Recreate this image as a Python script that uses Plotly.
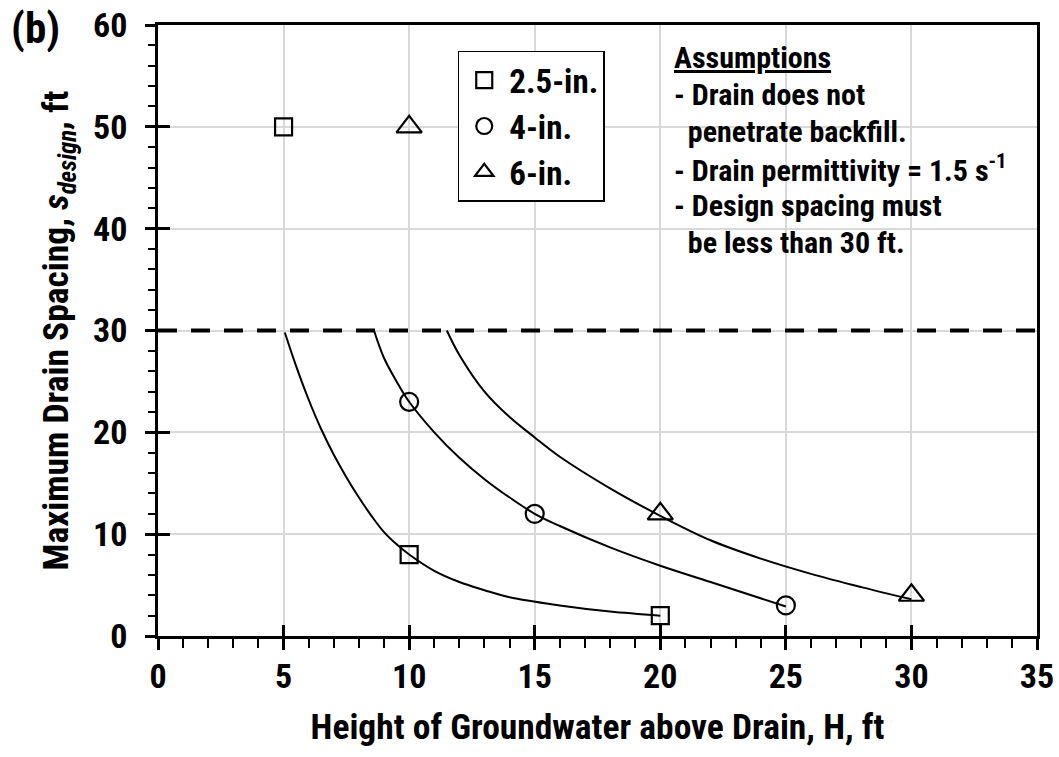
import plotly.graph_objects as go

# ---- data ----
curve_25_x = [5.05, 5.5, 6.0, 6.5, 7.0, 7.5, 8.0, 8.5, 9.0, 9.5, 10.0, 11.0, 12.0, 13.0, 14.0, 16.0, 18.0, 20.0]
curve_25_y = [29.8, 26.5, 23.2, 20.3, 17.8, 15.6, 13.6, 11.8, 10.2, 9.0, 8.0, 6.4, 5.3, 4.5, 3.8, 3.0, 2.4, 2.0]

curve_4_x = [8.6, 9.0, 9.5, 10.0, 11.0, 12.0, 13.0, 14.0, 15.0, 16.0, 18.0, 20.0, 22.0, 25.0]
curve_4_y = [30.0, 27.3, 25.0, 23.0, 20.0, 17.5, 15.4, 13.6, 12.0, 10.8, 8.7, 6.9, 5.3, 2.9]

curve_6_x = [11.5, 12.0, 13.0, 14.0, 15.0, 16.0, 18.0, 20.0, 22.0, 24.0, 26.0, 28.0, 30.0]
curve_6_y = [30.0, 27.6, 24.0, 21.5, 19.5, 17.6, 14.5, 11.8, 9.4, 7.6, 6.1, 4.8, 3.6]

pts_25_x = [5, 10, 20]
pts_25_y = [50, 8, 2]
pts_4_x = [10, 15, 25]
pts_4_y = [23, 12, 3]
pts_6_x = [10, 20, 30]
pts_6_y = [50, 12, 4]

series_names = ["2.5-in.", "4-in.", "6-in."]
limit_spacing = 30
x_range = [0, 35]
y_range = [0, 60]

assumption_lines = [
    "<u>Assumptions</u>",
    "- Drain does not",
    "\u00a0\u00a0penetrate backfill.",
    "- Drain permittivity = 1.5 s<sup>-1</sup>",
    "- Design spacing must",
    "\u00a0\u00a0be less than 30 ft.",
]

FONT = "Roboto Condensed, Liberation Sans Narrow, Arial Narrow, Liberation Sans, Arial, sans-serif"

fig = go.Figure()

for cx, cy in [(curve_25_x, curve_25_y), (curve_4_x, curve_4_y), (curve_6_x, curve_6_y)]:
    fig.add_trace(go.Scatter(x=cx, y=cy, mode="lines",
                             line=dict(color="black", width=2, shape="spline", smoothing=1.0),
                             showlegend=False, hoverinfo="skip"))

marker_specs = [
    (pts_25_x, pts_25_y, "square-open", 17),
    (pts_4_x, pts_4_y, "circle-open", 18),
    (pts_6_x, pts_6_y, "triangle-up-open", 22),
]
for (px, py, sym, sz), name in zip(marker_specs, series_names):
    fig.add_trace(go.Scatter(x=px, y=py, mode="markers", name=name,
                             marker=dict(symbol=sym, size=sz, color="black",
                                         line=dict(color="black", width=2.2))))

# dummy trace for overlay axes (inside tick marks)
fig.add_trace(go.Scatter(x=[None], y=[None], xaxis="x2", yaxis="y2",
                         showlegend=False, hoverinfo="skip"))

fig.add_hline(y=limit_spacing, line=dict(color="black", width=4, dash="19px,14px"))

axis_font = dict(family=FONT, size=34, color="black", weight="bold")

# layout geometry (pixels) for placing the annotation lines
PLOT_TOP, PLOT_H = 25, 611
first_line_px, line_step_px = 58, 36.8

annotations = [
    dict(text="<b>(b)</b>", xref="paper", yref="paper", x=-0.17, y=1.04,
         xanchor="left", yanchor="top", showarrow=False,
         font=dict(family=FONT, size=43, color="black")),
]
for i, line in enumerate(assumption_lines):
    py = first_line_px + i * line_step_px
    annotations.append(dict(
        text="<b>" + line + "</b>", xref="paper", yref="paper",
        x=0.585, y=1 - (py - PLOT_TOP) / PLOT_H, xanchor="left", yanchor="middle",
        align="left", showarrow=False,
        font=dict(family=FONT, size=30, color="black")))

fig.update_layout(
    width=1059, height=757,
    margin=dict(l=158, r=22, t=25, b=121),
    paper_bgcolor="white", plot_bgcolor="white",
    font=dict(family=FONT, color="black"),
    xaxis=dict(
        range=x_range, dtick=5, tick0=0, automargin=False,
        showgrid=True, gridcolor="#d9d9d9", gridwidth=1.5,
        zeroline=False, showline=True, linecolor="black", linewidth=2.5, mirror=True,
        ticks="outside", ticklen=11, tickwidth=2.5, tickcolor="black",
        minor=dict(dtick=1, ticks="outside", ticklen=9, tickwidth=2, tickcolor="black", showgrid=False),
        tickfont=axis_font, ticklabelstandoff=-3,
        title=dict(text="<b>Height of Groundwater above Drain, H, ft</b>",
                   font=dict(family=FONT, size=35.5, color="black"), standoff=20),
    ),
    yaxis=dict(
        range=y_range, dtick=10, tick0=0, automargin=False,
        showgrid=True, gridcolor="#d9d9d9", gridwidth=1.5,
        zeroline=False, showline=True, linecolor="black", linewidth=2.5, mirror=True,
        ticks="outside", ticklen=10, tickwidth=2.5, tickcolor="black",
        minor=dict(dtick=2, ticks="outside", ticklen=7, tickwidth=2, tickcolor="black", showgrid=False),
        tickfont=axis_font, ticklabelstandoff=11,
        title=dict(text="<b>Maximum Drain Spacing, <i>s<sub>design</sub></i>, ft</b>",
                   font=dict(family=FONT, size=35.5, color="black"), standoff=14),
    ),
    xaxis2=dict(range=x_range, overlaying="x", anchor="y", side="bottom", dtick=5, tick0=0,
                ticks="inside", ticklen=11, tickwidth=2.5, tickcolor="black", automargin=False,
                showticklabels=False, showgrid=False, zeroline=False, showline=False),
    yaxis2=dict(range=y_range, overlaying="y", anchor="x", side="left", dtick=10, tick0=0,
                ticks="inside", ticklen=12, tickwidth=2.5, tickcolor="black", automargin=False,
                showticklabels=False, showgrid=False, zeroline=False, showline=False),
    legend=dict(x=0.341, y=0.958, xanchor="left", yanchor="top",
                bgcolor="white", bordercolor="black", borderwidth=1.5,
                font=dict(family=FONT, size=33, color="black", weight="bold"),
                itemwidth=40, tracegroupgap=0),
    annotations=annotations,
)

fig.write_html("out.html")
